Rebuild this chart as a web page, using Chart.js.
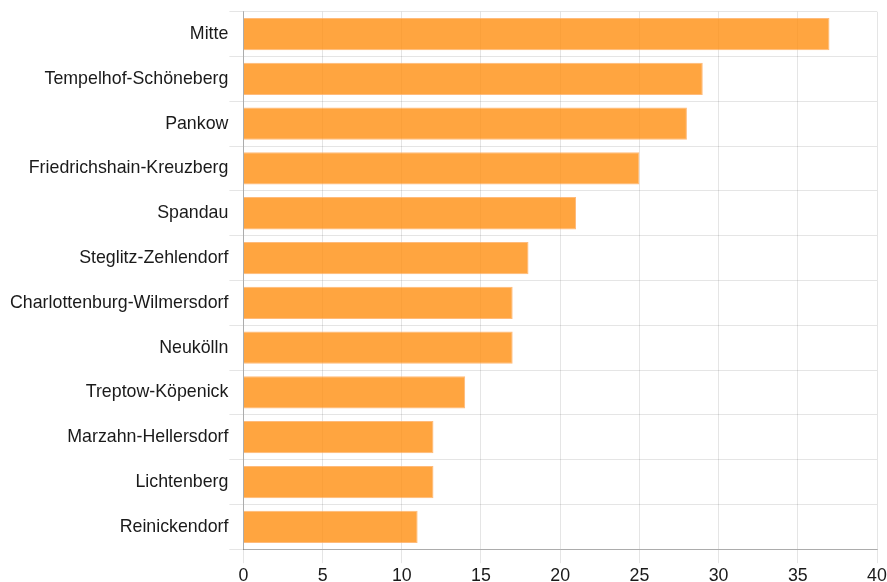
<!DOCTYPE html>
<html>
<head>
<meta charset="utf-8">
<script src="https://cdn.jsdelivr.net/npm/chart.js@4"></script>
<style>
  html, body { margin: 0; padding: 0; background: #fff; }
  #wrap { width: 887px; height: 582px; position: relative; }
</style>
</head>
<body>
<div id="wrap"><canvas id="chart"></canvas></div>
<script>
// Bezirke und Werte
const districts = [
    'Mitte', 'Tempelhof-Schöneberg', 'Pankow', 'Friedrichshain-Kreuzberg',
    'Spandau', 'Steglitz-Zehlendorf', 'Charlottenburg-Wilmersdorf', 'Neukölln',
    'Treptow-Köpenick', 'Marzahn-Hellersdorf', 'Lichtenberg', 'Reinickendorf'
];
const counts = [37, 29, 28, 25, 21, 18, 17, 17, 14, 12, 12, 11];
const xMax = 40;
const xStep = 5;

Chart.defaults.font.family = '"Liberation Sans", Arial, sans-serif';
Chart.defaults.font.size = 17.8;
Chart.defaults.color = '#1a1a1a';

new Chart(document.getElementById('chart'), {
    type: 'bar',
    data: {
        labels: districts,
        datasets: [{
            data: counts,
            backgroundColor: 'rgba(255, 140, 10, 0.78)',
            borderColor: 'rgba(255, 170, 90, 0.8)',
            borderWidth: 1
        }]
    },
    options: {
        indexAxis: 'y',
        responsive: true,
        maintainAspectRatio: false,
        animation: false,
        layout: { padding: { top: 8, right: 0, left: 9, bottom: -7 } },
        plugins: { legend: { display: false }, tooltip: { enabled: false } },
        scales: {
            x: {
                min: 0, max: xMax,
                ticks: { stepSize: xStep, padding: 4, font: { lineHeight: 1.0 } },
                grid: { color: 'rgba(0,0,0,0.1)', tickLength: 14 },
                border: { color: 'rgba(0,0,0,0.25)' },
                afterFit: function (scale) { scale.paddingRight = 10; }
            },
            y: {
                ticks: { padding: 1 },
                grid: { color: 'rgba(0,0,0,0.1)', tickLength: 14 },
                border: { color: 'rgba(0,0,0,0.25)' }
            }
        }
    }
});
</script>
</body>
</html>
